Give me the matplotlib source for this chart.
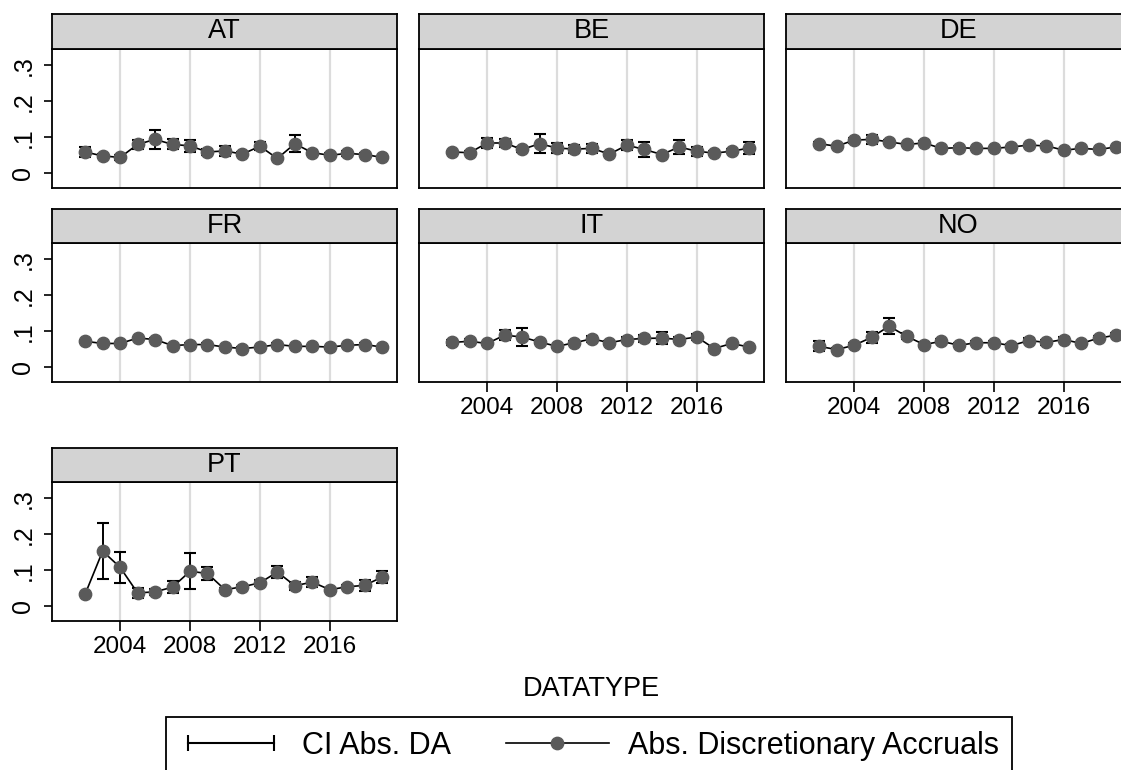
import matplotlib
matplotlib.use('Agg')
import matplotlib.pyplot as plt
from matplotlib.lines import Line2D
from matplotlib.legend_handler import HandlerLine2D

plt.rcParams['font.family'] = ['Liberation Sans', 'DejaVu Sans']

#----data----
years = list(range(2002, 2020))
countries = ['AT', 'BE', 'DE', 'FR', 'IT', 'NO', 'PT']

# abs. discretionary accruals (mean per year) and half width of the CI
at_da = [0.059, 0.048, 0.044, 0.080, 0.094, 0.080, 0.076, 0.059, 0.062, 0.053, 0.075, 0.041, 0.082, 0.057, 0.050, 0.055, 0.052, 0.044]
at_ci = [0.014, 0.006, 0.006, 0.013, 0.026, 0.014, 0.017, 0.007, 0.014, 0.005, 0.011, 0.005, 0.024, 0.007, 0.005, 0.006, 0.005, 0.004]

be_da = [0.059, 0.057, 0.084, 0.084, 0.066, 0.082, 0.070, 0.067, 0.069, 0.053, 0.078, 0.066, 0.052, 0.073, 0.061, 0.056, 0.061, 0.070]
be_ci = [0.004, 0.004, 0.014, 0.012, 0.006, 0.027, 0.013, 0.011, 0.012, 0.005, 0.013, 0.022, 0.005, 0.019, 0.012, 0.005, 0.005, 0.016]

de_da = [0.082, 0.075, 0.092, 0.094, 0.087, 0.080, 0.084, 0.069, 0.071, 0.069, 0.069, 0.073, 0.078, 0.076, 0.064, 0.069, 0.066, 0.073]
de_ci = [0.005, 0.004, 0.007, 0.013, 0.005, 0.005, 0.005, 0.004, 0.004, 0.004, 0.004, 0.004, 0.004, 0.004, 0.004, 0.004, 0.004, 0.004]

fr_da = [0.072, 0.066, 0.066, 0.081, 0.077, 0.060, 0.063, 0.063, 0.056, 0.052, 0.056, 0.063, 0.058, 0.058, 0.056, 0.061, 0.063, 0.056]
fr_ci = [0.004] * 18

it_da = [0.069, 0.072, 0.066, 0.089, 0.084, 0.070, 0.058, 0.068, 0.079, 0.068, 0.077, 0.080, 0.081, 0.077, 0.084, 0.052, 0.066, 0.056]
it_ci = [0.006, 0.007, 0.005, 0.014, 0.025, 0.006, 0.005, 0.006, 0.008, 0.005, 0.008, 0.009, 0.017, 0.007, 0.009, 0.004, 0.004, 0.004]

no_da = [0.058, 0.049, 0.061, 0.083, 0.114, 0.086, 0.063, 0.072, 0.061, 0.068, 0.068, 0.060, 0.074, 0.069, 0.077, 0.066, 0.081, 0.089]
no_ci = [0.014, 0.005, 0.006, 0.015, 0.023, 0.008, 0.006, 0.006, 0.005, 0.006, 0.006, 0.005, 0.006, 0.006, 0.007, 0.005, 0.006, 0.006]

pt_da = [0.034, 0.153, 0.108, 0.037, 0.040, 0.053, 0.097, 0.091, 0.046, 0.054, 0.065, 0.095, 0.057, 0.067, 0.046, 0.054, 0.058, 0.081]
pt_ci = [0.003, 0.078, 0.044, 0.014, 0.009, 0.017, 0.050, 0.017, 0.005, 0.005, 0.009, 0.016, 0.011, 0.014, 0.005, 0.004, 0.016, 0.017]

da = {'AT': at_da, 'BE': be_da, 'DE': de_da, 'FR': fr_da, 'IT': it_da, 'NO': no_da, 'PT': pt_da}
ci = {'AT': at_ci, 'BE': be_ci, 'DE': de_ci, 'FR': fr_ci, 'IT': it_ci, 'NO': no_ci, 'PT': pt_ci}

xticks = [2004, 2008, 2012, 2016]
yticks = [0, 0.1, 0.2, 0.3]
ytick_labels = ['0', '.1', '.2', '.3']
#---------------------------------

W, H = 1121, 770
col_left = [52, 419, 786]
plot_top = [49, 243, 482]
strip_top = [14, 209, 448]
pw, ph = 345, 139

def box(left, top, w, h):
    # pixel box (from top-left) -> figure fraction
    return [left / W, 1 - (top + h) / H, w / W, h / H]

fig = plt.figure(figsize=(W / 100, H / 100), dpi=100)
dot = '#5a5a5a'

for i, c in enumerate(countries):
    r, k = divmod(i, 3)
    ax = fig.add_axes(box(col_left[k], plot_top[r], pw, ph))
    ax.set_xlim(2000.1, 2019.85)
    ax.set_ylim(-0.041, 0.345)
    for g in xticks:
        ax.axvline(g, color='#dcdcdc', lw=1.6, zorder=0)
    ax.errorbar(years, da[c], yerr=ci[c], fmt='none', ecolor='black',
                elinewidth=1.4, capsize=4.5, capthick=1.5, zorder=2)
    ax.plot(years, da[c], color='black', lw=1.2, marker='o', ms=8.9,
            mfc=dot, mec=dot, zorder=3)
    for s in ax.spines.values():
        s.set_linewidth(1.3)
        s.set_color('black')
    if k == 0:
        ax.set_yticks(yticks)
        ax.set_yticklabels(ytick_labels, rotation=90, va='center')
        ax.tick_params(axis='y', length=6, width=1.2, labelsize=18, pad=6)
    else:
        ax.set_yticks([])
    if i >= 4:
        ax.set_xticks(xticks)
        ax.tick_params(axis='x', length=7, width=1.2, labelsize=17.5, pad=4)
    else:
        ax.set_xticks([])

    # strip with the country name
    st = fig.add_axes(box(col_left[k], strip_top[r], pw, plot_top[r] - strip_top[r]))
    st.set_facecolor('#d3d3d3')
    st.set_xticks([])
    st.set_yticks([])
    for s in st.spines.values():
        s.set_linewidth(1.3)
    st.text(0.5, 0.5, c, ha='center', va='center', fontsize=19.5, transform=st.transAxes)

fig.text(591 / W, 1 - 689 / H, 'DATATYPE', ha='center', va='center', fontsize=19.5)

h_ci = Line2D([], [], color='black', lw=1.5, marker='|', ms=11, mew=1.5)
h_da = Line2D([], [], color='black', lw=1.2, marker='o', ms=8.9, mfc=dot, mec=dot)
leg = fig.legend([h_ci, h_da], ['CI Abs. DA', 'Abs. Discretionary Accruals'],
                 handler_map={h_ci: HandlerLine2D(numpoints=2)},
                 loc='upper center', bbox_to_anchor=(589 / W, 1 - 717 / H),
                 borderaxespad=0, ncol=2, fancybox=False, edgecolor='black',
                 framealpha=1, fontsize=22, handlelength=3.4, columnspacing=1.8,
                 handletextpad=0.6, borderpad=0.45)
leg.get_frame().set_linewidth(1.3)

fig.savefig('out.png', dpi=100)
